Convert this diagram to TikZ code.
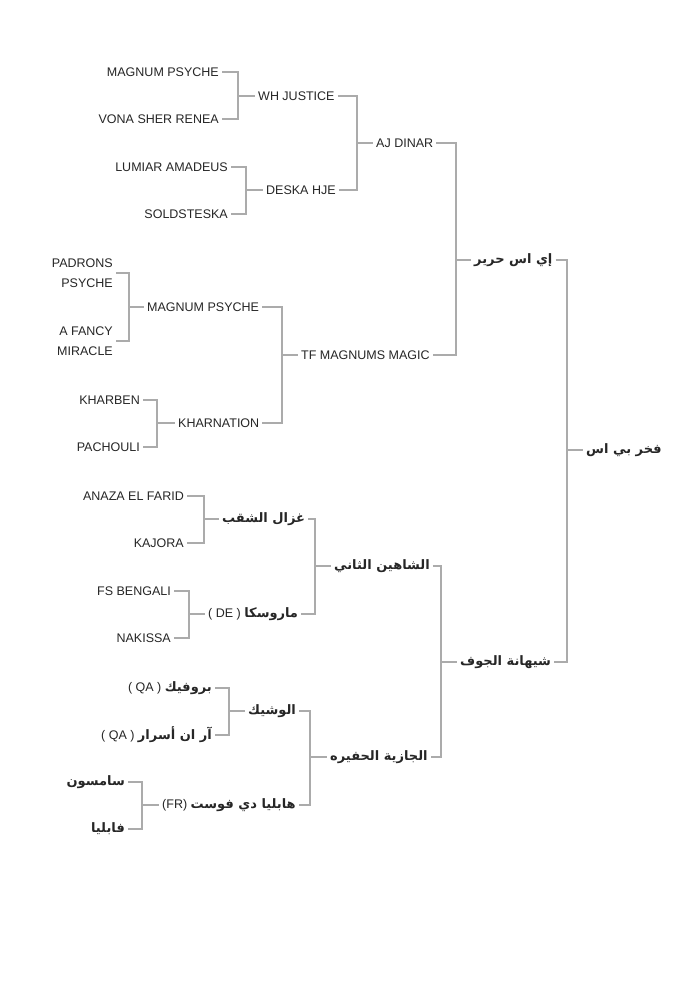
\documentclass[tikz,border=0pt]{standalone}
\usepackage{fontspec}
\setmainfont{Liberation Sans}
\newfontfamily\ar[Script=Arabic]{DejaVu Sans}
\TeXXeTstate=1
\tikzset{
  ln/.style={draw=black!33,line width=1.4pt},
  L/.style={anchor=east,inner sep=0pt,text=black!85,font=\fontsize{12.5}{20}\selectfont,align=right},
  R/.style={anchor=west,inner sep=0pt,text=black!85,font=\fontsize{12.5}{20}\selectfont},
}
\newcommand{\A}[1]{{\ar\bfseries\fontsize{13}{14}\selectfont\beginR #1\endR}}
\newcommand{\AL}[2]{\beginR{\ar\bfseries\fontsize{13}{14}\selectfont #1} \beginL{\rmfamily #2}\endL\endR}
\newcommand{\brk}[4]{%
  \coordinate (bb) at (#4,0);
  \draw[ln] ([xshift=3]#1.east) -- (#1.east -| bb) -- (#2.east -| bb) -- ([xshift=3]#2.east);
  \draw[ln] (#3.west -| bb) -- ([xshift=-3]#3.west);}
\begin{document}
\begin{tikzpicture}[x=1pt,y=-1pt]
\useasboundingbox[fill=white] (0,0) rectangle (700,1002);
% gen 4 top
\node[L] (a1) at (219,72) {MAGNUM PSYCHE};
\node[L] (a2) at (219,119) {VONA SHER RENEA};
\node[L] (a3) at (228,167) {LUMIAR AMADEUS};
\node[L] (a4) at (228,214) {SOLDSTESKA};
\node[L] (a5) at (113,273) {PADRONS\\PSYCHE};
\node[L] (a6) at (113,341) {A FANCY\\MIRACLE};
\node[L] (a7) at (140,400) {KHARBEN};
\node[L] (a8) at (140,447) {PACHOULI};
\node[L] (a9) at (184,496) {ANAZA EL FARID};
\node[L] (a10) at (184,543) {KAJORA};
\node[L] (a11) at (171,591) {FS BENGALI};
\node[L] (a12) at (171,638) {NAKISSA};
\node[L] (a13) at (212,688) {\AL{بروفيك}{( QA )}};
\node[L] (a14) at (212,735) {\AL{آر ان أسرار}{( QA )}};
\node[L] (a15) at (125,782) {\A{سامسون}};
\node[L] (a16) at (125,829) {\A{فابليا}};
% gen 3
\node[R] (b1) at (258,96) {WH JUSTICE};
\node[R] (b2) at (266,190) {DESKA HJE};
\node[R] (b3) at (147,307) {MAGNUM PSYCHE};
\node[R] (b4) at (178,423) {KHARNATION};
\node[R] (b5) at (222,519) {\A{غزال الشقب}};
\node[R] (b6) at (208,614) {\AL{ماروسكا}{( DE )}};
\node[R] (b7) at (248,711) {\A{الوشيك}};
\node[R] (b8) at (162,805) {\AL{هابليا دي فوست}{(FR)}};
% gen 2
\node[R] (c1) at (376,143) {AJ DINAR};
\node[R] (c2) at (301,355) {TF MAGNUMS MAGIC};
\node[R] (c3) at (334,566) {\A{الشاهين الثاني}};
\node[R] (c4) at (330,757) {\A{الجازية الحفيره}};
% gen 1
\node[R] (d1) at (474,260) {\A{إي اس حرير}};
\node[R] (d2) at (460,662) {\A{شيهانة الجوف}};
% root
\node[R] (e) at (586,450) {\A{فخر بي اس}};
% brackets
\brk{a1}{a2}{b1}{238}
\brk{a3}{a4}{b2}{246}
\brk{a5}{a6}{b3}{129}
\brk{a7}{a8}{b4}{157}
\brk{a9}{a10}{b5}{204}
\brk{a11}{a12}{b6}{189}
\brk{a13}{a14}{b7}{229}
\brk{a15}{a16}{b8}{142}
\brk{b1}{b2}{c1}{357}
\brk{b3}{b4}{c2}{282}
\brk{b5}{b6}{c3}{315}
\brk{b7}{b8}{c4}{310}
\brk{c1}{c2}{d1}{456}
\brk{c3}{c4}{d2}{441}
\brk{d1}{d2}{e}{567}
\end{tikzpicture}
\end{document}
